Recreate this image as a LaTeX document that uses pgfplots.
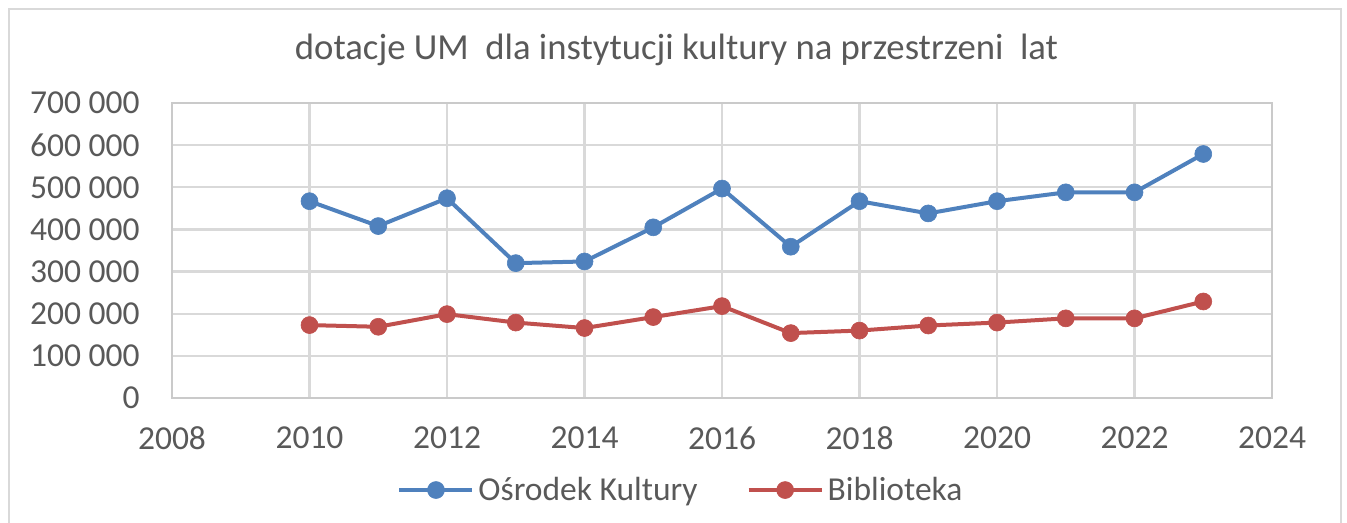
\documentclass[border=0pt]{standalone}
\usepackage{pgfplots}
\pgfplotsset{compat=1.18}
\usepackage{fontspec}
\setmainfont{Carlito}

\definecolor{txt}{HTML}{595959}
\definecolor{gridc}{HTML}{D9D9D9}
\definecolor{axc}{HTML}{CACACA}
\definecolor{frame}{HTML}{D9D9D9}
\definecolor{okblue}{HTML}{4F81BD}
\definecolor{bibred}{HTML}{C0504D}

% Dotacje dla Ośrodka Kultury
\pgfplotstableread{
rok wartosc
2010 467000
2011 408000
2012 474000
2013 320000
2014 324000
2015 405000
2016 497000
2017 359000
2018 467000
2019 438000
2020 467000
2021 488000
2022 488000
2023 579000
}\osrodek

% Dotacje dla Biblioteki
\pgfplotstableread{
rok wartosc
2010 173000
2011 169000
2012 199000
2013 179000
2014 166000
2015 192000
2016 218000
2017 154000
2018 160000
2019 172000
2020 179000
2021 189000
2022 189000
2023 229000
}\biblioteka

\begin{document}
\begin{tikzpicture}
\useasboundingbox (0,0) rectangle (673.5pt,-261.5pt);
% ramka wykresu
\draw[frame, line width=1pt] (4.5pt,-275pt) -- (4.5pt,-4.5pt) -- (670.5pt,-4.5pt) -- (670.5pt,-275pt);
% tytuł
\node[anchor=base, text=txt, font=\fontsize{18.35pt}{22pt}\selectfont, inner sep=0pt]
  at (338.25pt,-30pt) {dotacje UM\ \ dla instytucji kultury na przestrzeni\ \ lat};
\begin{axis}[
  at={(86pt,-199pt)}, anchor=south west,
  scale only axis, width=550pt, height=147.5pt,
  xmin=2008, xmax=2024, ymin=0, ymax=700000,
  xtick={2008,2010,...,2024},
  xticklabels={2008,2010,2012,2014,2016,2018,2020,2022,2024},
  ytick={0,100000,...,700000},
  yticklabels={0,100 000,200 000,300 000,400 000,500 000,600 000,700 000},
  scaled y ticks=false,
  grid=major,
  major grid style={gridc, line width=1.2pt},
  axis line style={axc, line width=1.2pt},
  tick style={draw=none},
  ticklabel style={text=txt, font=\fontsize{16.75pt}{20pt}\selectfont, inner sep=0pt},
  yticklabel style={anchor=east, xshift=-16pt},
  xticklabel style={anchor=north, yshift=-14pt},
  clip=false,
  legend columns=2,
  legend style={draw=none, fill=none, at={(0.4636,-0.312)}, anchor=center,
    font=\fontsize{16.75pt}{20pt}\selectfont, text=txt,
    /tikz/every even column/.append style={column sep=22.5pt}},
  legend cell align=left,
  legend image code/.code={\draw[mark repeat=2,mark phase=2]
    plot coordinates {(0pt,0pt) (18.25pt,0pt) (36.5pt,0pt)};},
]
\addplot[okblue, line width=2pt, mark=*, mark size=4.25pt,
  mark options={solid, fill=okblue, draw=okblue, line width=0.3pt}]
  table[x=rok, y=wartosc] {\osrodek};
\addlegendentry{Ośrodek Kultury}
\addplot[bibred, line width=2pt, mark=*, mark size=4.25pt,
  mark options={solid, fill=bibred, draw=bibred, line width=0.3pt}]
  table[x=rok, y=wartosc] {\biblioteka};
\addlegendentry{Biblioteka}
\end{axis}
\end{tikzpicture}
\end{document}
